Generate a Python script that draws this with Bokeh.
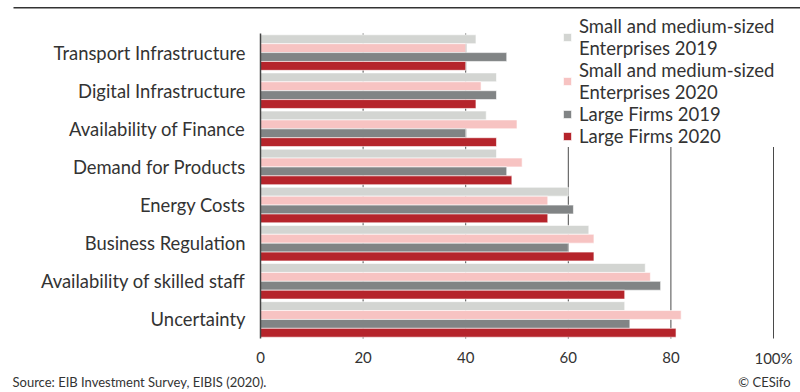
from bokeh.plotting import figure
from bokeh.models import (ColumnDataSource, Range1d, Legend, LegendItem, Label, BoxAnnotation)
from bokeh.core.properties import value
from bokeh.transform import dodge
from bokeh.embed import file_html
from bokeh.resources import INLINE

categories = ["Transport Infrastructure", "Digital Infrastructure", "Availability of Finance",
              "Demand for Products", "Energy Costs", "Business Regulation",
              "Availability of skilled staff", "Uncertainty"]
sme_2019 = [42, 46, 44, 46, 60, 64, 75, 71]
sme_2020 = [40, 43, 50, 51, 56, 65, 76, 82]
large_2019 = [48, 46, 40, 48, 61, 60, 78, 72]
large_2020 = [40, 42, 46, 49, 56, 65, 71, 81]
x_ticks = [0, 20, 40, 60, 80, 100]
x_tick_labels = ["0", "20", "40", "60", "80", "100%"]
series_names = ["Small and medium-sized\nEnterprises 2019", "Small and medium-sized\nEnterprises 2020",
                "Large Firms 2019", "Large Firms 2020"]
colors = ["#d3d5d2", "#f7c3c2", "#818485", "#b5242b"]

FONT = "Lato"
TXT = "#333333"
W, H = 800, 392
# plot-area geometry (pixels)
PL, PR, PT, PB = 260, 773, 33, 338
n = len(categories)
xmax = max(x_ticks)
ux = (PR - PL) / xmax
uy = (PB - PT) / n

src = ColumnDataSource(dict(pos=[i + 0.5 for i in range(n)], cat=categories,
                            s19=sme_2019, s20=sme_2020, l19=large_2019, l20=large_2020))

p = figure(width=W, height=H,
           x_range=Range1d(-PL / ux, (W - PL) / ux),
           y_range=Range1d(n + (H - PB) / uy, -PT / uy),
           min_border=0, min_border_left=0, min_border_right=0, min_border_top=0, min_border_bottom=0,
           x_axis_location=None, y_axis_location=None,
           output_backend="svg", toolbar_location=None)
p.grid.visible = False
p.outline_line_color = None
p.background_fill_color = "white"
p.border_fill_color = "white"

# vertical grid lines
gsrc = ColumnDataSource(dict(x=x_ticks[1:], y0=[0] * (len(x_ticks) - 1), y1=[n] * (len(x_ticks) - 1)))
p.segment(x0="x", x1="x", y0="y0", y1="y1", source=gsrc, line_color="#4a4a4a", line_width=1)

offsets = [-0.35, -0.117, 0.117, 0.35]
fields = ["s19", "s20", "l19", "l20"]
renderers = []
for f, off, c in zip(fields, offsets, colors):
    r = p.hbar(y=dodge("pos", off), left=0, right=f, height=0.232,
               source=src, fill_color=c, line_color="white", line_width=0.6)
    renderers.append(r)

# category axis line and labels
p.segment(x0=[0], x1=[0], y0=[0], y1=[n], line_color="#444444", line_width=1.5)
p.text(x=0, y="pos", text="cat", source=src, x_offset=-15, text_align="right",
       text_baseline="middle", text_font=value(FONT), text_font_size="18.4px", text_color=TXT)

# value axis labels
tsrc = ColumnDataSource(dict(x=x_ticks, lab=x_tick_labels, y=[n] * len(x_ticks)))
p.text(x="x", y="y", text="lab", source=tsrc, y_offset=19, text_align="center",
       text_baseline="middle", text_font=value(FONT), text_font_size="15px", text_color=TXT)

legend = Legend(items=[LegendItem(label=nm, renderers=[r]) for nm, r in zip(series_names, renderers)],
                location=(562, H - 147), background_fill_color="white", background_fill_alpha=1,
                border_line_color=None, label_text_font=FONT, label_text_font_size="18.5px",
                label_text_color=TXT, glyph_width=10, glyph_height=10, spacing=0,
                label_standoff=7, padding=4, margin=0, label_text_line_height=0.9)
p.add_layout(legend, "center")

# top rule
p.add_layout(BoxAnnotation(left=13, right=W, bottom=H - 8, top=H - 6.5,
                           left_units="screen", right_units="screen",
                           top_units="screen", bottom_units="screen",
                           fill_color="#333333", fill_alpha=1, line_color=None))

p.add_layout(Label(x=12, y=H - 381, x_units="screen", y_units="screen",
                   text="Source: EIB Investment Survey, EIBIS (2020).", text_baseline="middle",
                   text_font=FONT, text_font_size="13px", text_color=TXT))
p.add_layout(Label(x=790, y=H - 381, x_units="screen", y_units="screen", text="© CESifo",
                   text_align="right", text_baseline="middle",
                   text_font=FONT, text_font_size="13px", text_color=TXT))

open("out.html", "w").write(file_html(p, INLINE))
